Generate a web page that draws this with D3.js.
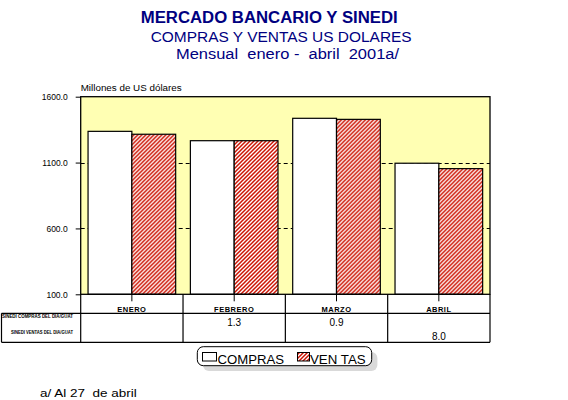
<!DOCTYPE html>
<html><head><meta charset="utf-8">
<script src="https://cdn.jsdelivr.net/npm/d3@7"></script>
<style>
html,body{margin:0;padding:0;background:#fff;}
svg{display:block;font-family:"Liberation Sans",Arial,sans-serif;}
</style></head>
<body>
<script>
const categories = ["ENERO", "FEBRERO", "MARZO", "ABRIL"];
const series = ["COMPRAS", "VENTAS"];
const compras = [1337, 1266, 1436, 1095];
const ventas = [1315, 1266, 1428, 1054];
const yTicks = [100, 600, 1100, 1600];
const gridTicks = [600, 1100];
const rowLabels = ["SINEDI COMPRAS DEL DIA/GUAT", "SINEDI VENTAS DEL DIA/GUAT"];
const rowCompras = ["", "1.3", "0.9", ""];
const rowVentas = ["", "", "", "8.0"];
const titles = ["MERCADO BANCARIO Y SINEDI", "COMPRAS Y VENTAS US DOLARES", "Mensual  enero -  abril  2001a/"];
const yAxisTitle = "Millones de US dólares";
const footnote = "a/ Al 27  de abril";

const W = 568, H = 400;
const svg = d3.select("body").append("svg").attr("width", W).attr("height", H);

const defs = svg.append("defs");
const pat = defs.append("pattern").attr("id", "hatch").attr("patternUnits", "userSpaceOnUse")
  .attr("width", 4).attr("height", 4);
pat.append("rect").attr("width", 4).attr("height", 4).attr("fill", "#fff");
pat.append("path").attr("d", "M-1,1 l2,-2 M0,4 l4,-4 M3,5 l2,-2")
  .attr("stroke", "#cc1100").attr("stroke-width", 1.5);

const L = 80.7, R = 490, T = 96.7, B = 294.3;
const x = d3.scaleBand().domain(categories).range([L, R]).paddingInner(0).paddingOuter(0);
const x1 = d3.scaleBand().domain(series).range([7.35, x.bandwidth() - 7.35]).padding(0);
const y = d3.scaleLinear().domain([100, 1600]).range([B, T]);

// Titles
const navy = "#000080";
const tspec = [
  {x: 140.7, y: 23.3, size: 16, weight: "bold", len: 257},
  {x: 150.7, y: 41.7, size: 14.5, weight: "normal", len: 261},
  {x: 176, y: 59.3, size: 14, weight: "normal", len: 223}
];
titles.forEach((t, i) => {
  const s = tspec[i];
  svg.append("text").attr("x", s.x).attr("y", s.y).attr("fill", navy)
    .attr("font-size", s.size).attr("font-weight", s.weight)
    .attr("textLength", s.len).attr("lengthAdjust", "spacingAndGlyphs")
    .style("white-space", "pre").text(t);
});

svg.append("text").attr("x", 80.7).attr("y", 91).attr("font-size", 8.5)
  .attr("textLength", 101).attr("lengthAdjust", "spacingAndGlyphs").text(yAxisTitle);

// plot background
svg.append("rect").attr("x", L).attr("y", T).attr("width", R - L).attr("height", B - T)
  .attr("fill", "#ffffb3");

// gridlines
svg.append("g").selectAll("line").data(gridTicks).join("line")
  .attr("x1", L).attr("x2", R).attr("y1", d => Math.round(y(d)) + 0.5).attr("y2", d => Math.round(y(d)) + 0.5)
  .attr("stroke", "#000").attr("stroke-dasharray", "4,3");

// y axis
const yAxis = d3.axisLeft(y).tickValues(yTicks).tickFormat(d3.format(".1f")).tickSize(5).tickPadding(8);
const gy = svg.append("g").attr("transform", `translate(${L},0)`).call(yAxis);
gy.select(".domain").remove();
gy.selectAll("text").attr("font-size", 8.5).attr("font-family", "Liberation Sans, Arial, sans-serif").attr("fill", "#000");
gy.selectAll("line").attr("stroke", "#000");

// bars
const groups = svg.append("g").selectAll("g").data(categories).join("g")
  .attr("transform", d => `translate(${x(d)},0)`);
groups.append("rect").attr("class", "compras")
  .attr("x", x1("COMPRAS")).attr("width", x1.bandwidth())
  .attr("y", (d, i) => y(compras[i])).attr("height", (d, i) => B - y(compras[i]))
  .attr("fill", "#fff").attr("stroke", "#000").attr("stroke-width", 1.2);
groups.append("rect").attr("class", "ventas")
  .attr("x", x1("VENTAS")).attr("width", x1.bandwidth())
  .attr("y", (d, i) => y(ventas[i])).attr("height", (d, i) => B - y(ventas[i]))
  .attr("fill", "url(#hatch)").attr("stroke", "#000").attr("stroke-width", 1.2);

// plot border
svg.append("rect").attr("x", L).attr("y", T).attr("width", R - L).attr("height", B - T)
  .attr("fill", "none").attr("stroke", "#000").attr("stroke-width", 1.3);

// x axis (ticks at category centers)
const xAxis = d3.axisBottom(x).tickSize(7).tickFormat("");
const gx = svg.append("g").attr("transform", `translate(0,${B})`).call(xAxis);
gx.select(".domain").remove();
gx.selectAll("line").attr("stroke", "#000");

// data table
const rowTop = 313.3, rowBot = 342.3;
const tbl = svg.append("g").attr("stroke", "#000").attr("stroke-width", 1.2);
tbl.append("line").attr("x1", 1.5).attr("x2", R).attr("y1", rowTop).attr("y2", rowTop);
tbl.append("line").attr("x1", 1.5).attr("x2", R).attr("y1", rowBot).attr("y2", rowBot);
tbl.append("line").attr("x1", 1.5).attr("x2", 1.5).attr("y1", rowTop).attr("y2", rowBot);
const divs = categories.map(c => x(c)).concat([R]);
tbl.selectAll("line.div").data(divs).join("line").attr("class", "div")
  .attr("x1", d => d).attr("x2", d => d).attr("y1", B).attr("y2", rowBot);

svg.append("g").selectAll("text").data(categories).join("text")
  .attr("x", d => x(d) + x.bandwidth() / 2).attr("y", 311.5)
  .attr("text-anchor", "middle").attr("font-size", 7.5).attr("font-weight", "bold").attr("letter-spacing", 0.5)
  .text(d => d);

const rl = [{y: 317.5, x0: 2, len: 71}, {y: 334, x0: 11, len: 62}];
rowLabels.forEach((t, i) => {
  svg.append("text").attr("x", rl[i].x0).attr("y", rl[i].y).attr("font-size", 4.5)
    .attr("font-weight", "bold").attr("textLength", rl[i].len).attr("lengthAdjust", "spacingAndGlyphs").text(t);
});

svg.append("g").selectAll("text").data(rowCompras).join("text")
  .attr("x", (d, i) => x(categories[i]) + x.bandwidth() / 2).attr("y", 326)
  .attr("text-anchor", "middle").attr("font-size", 10).text(d => d);
svg.append("g").selectAll("text").data(rowVentas).join("text")
  .attr("x", (d, i) => x(categories[i]) + x.bandwidth() / 2).attr("y", 339.5)
  .attr("text-anchor", "middle").attr("font-size", 10).text(d => d);

// legend
const lg = svg.append("g");
lg.append("rect").attr("x", 203).attr("y", 352).attr("width", 174.4).attr("height", 19)
  .attr("rx", 6).attr("fill", "#d9d9d9");
lg.append("rect").attr("x", 197.3).attr("y", 346.7).attr("width", 174.4).attr("height", 19)
  .attr("rx", 6).attr("fill", "#fff").attr("stroke", "#000").attr("stroke-width", 1);
const legItems = [
  {name: series[0], sx: 202.5, tx: 217.5, fill: "#fff", len: 66.6},
  {name: series[1], sx: 297.5, tx: 310, fill: "url(#hatch)", len: 55.7}
];
legItems.forEach(it => {
  lg.append("rect").attr("x", it.sx).attr("y", 352.5).attr("width", it.name === "COMPRAS" ? 14 : 12).attr("height", 8.5)
    .attr("fill", it.fill).attr("stroke", "#000").attr("stroke-width", 1);
  lg.append("text").attr("x", it.tx).attr("y", 363.5).attr("font-size", 13)
    .attr("textLength", it.len).attr("lengthAdjust", "spacingAndGlyphs").text(it.name === "VENTAS" ? "VEN TAS" : it.name)
    .style("white-space", "pre");
});

svg.append("text").attr("x", 40).attr("y", 396.5).attr("font-size", 11)
  .attr("textLength", 96.7).attr("lengthAdjust", "spacingAndGlyphs").style("white-space", "pre").text(footnote);
</script>
</body></html>
